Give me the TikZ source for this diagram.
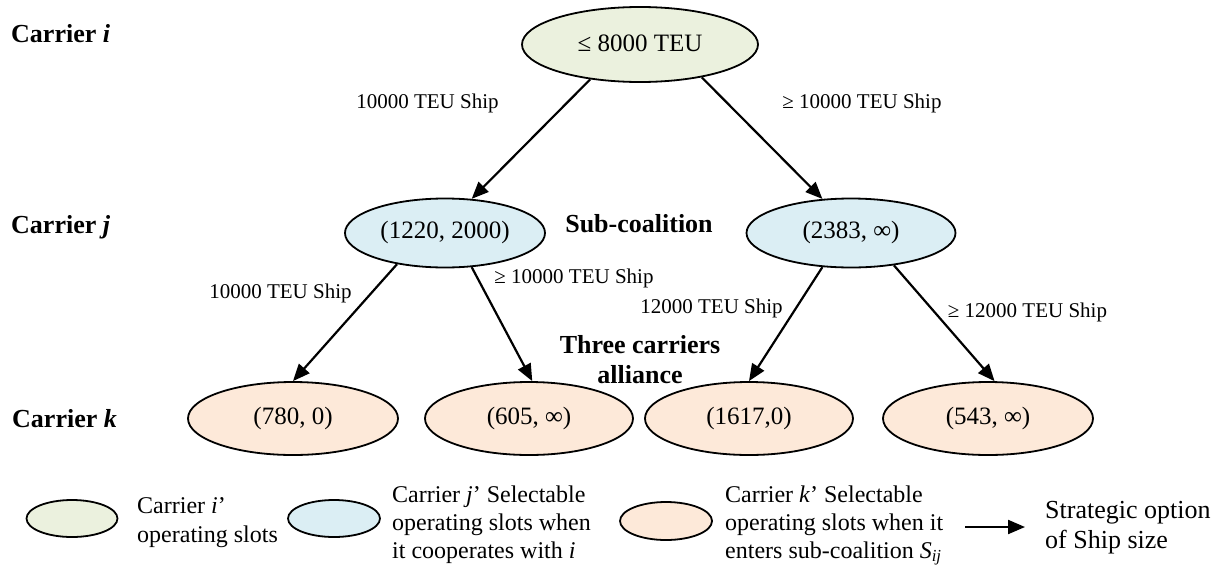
\documentclass[tikz,border=0pt]{standalone}
\usepackage{fontspec}
\setmainfont{Liberation Serif}
\usetikzlibrary{shapes.geometric,arrows.meta}
\definecolor{slotgreen}{HTML}{EBF1DE}
\definecolor{slotblue}{HTML}{DBEEF4}
\definecolor{slotpeach}{HTML}{FDE9D9}
\begin{document}
\begin{tikzpicture}[x=1pt,y=-1pt,
  oval/.style={ellipse,draw=black,line width=1.8pt,inner sep=0pt,
    font=\fontsize{25}{30}\selectfont},
  greenoval/.style={oval,fill=slotgreen},
  blueoval/.style={oval,fill=slotblue,minimum height=69pt},
  peachoval/.style={oval,fill=slotpeach,minimum height=73pt},
  keyoval/.style={ellipse,draw=black,line width=1.8pt,inner sep=0pt,
    minimum width=91pt,minimum height=37pt},
  rowlabel/.style={anchor=base west,inner sep=0pt,font=\fontsize{26}{30}\selectfont\bfseries},
  boldnote/.style={anchor=base,inner sep=0pt,font=\fontsize{26}{30}\selectfont\bfseries},
  choice/.style={anchor=base,inner sep=0pt,font=\fontsize{21}{25}\selectfont},
  keytext/.style={anchor=base west,inner sep=0pt,font=\fontsize{24}{28}\selectfont},
  keybig/.style={anchor=base west,inner sep=0pt,font=\fontsize{26}{30}\selectfont},
  option/.style={-{Triangle[length=17pt,width=14pt]},line width=2.2pt}]
\useasboundingbox (0,0) rectangle (1223,565);

% row labels
\node[rowlabel] (ri) at (11,42)  {Carrier \textit{i}};
\node[rowlabel] (rj) at (11,233) {Carrier \textit{j}};
\node[rowlabel] (rk) at (12,427) {Carrier \textit{k}};

% decision tree
\node[greenoval,minimum width=236pt,minimum height=75pt] (top) at (640,44.5)
  {\raisebox{3pt}{≤ 8000 TEU}};
\node[blueoval,minimum width=200pt] (j1) at (445,233) {\raisebox{6pt}{(1220, 2000)}};
\node[blueoval,minimum width=209pt] (j2) at (851,233) {\raisebox{6pt}{(2383, ∞)}};
\node[peachoval,minimum width=210pt] (k1) at (293,418.5) {\raisebox{4pt}{(780, 0)}};
\node[peachoval,minimum width=208pt] (k2) at (529,418.5) {\raisebox{4pt}{(605, ∞)}};
\node[peachoval,minimum width=208pt] (k3) at (749,418.5) {\raisebox{4pt}{(1617,0)}};
\node[peachoval,minimum width=210pt] (k4) at (988,418.5) {\raisebox{4pt}{(543, ∞)}};

\node[boldnote] (sub) at (639,232) {Sub-coalition};
\node[boldnote] (three) at (640,353) {Three carriers};
\node[boldnote] (alli) at (640,383) {alliance};

% ship size options
\draw[option] (top.215) -- (j1.52);
\draw[option] (top.332) -- (j2.130);
\draw[option] (j1.213) -- (k1.90);
\draw[option] (j1.308) -- (k2.85);
\draw[option] (j2.230) -- (k3.90);
\draw[option] (j2.323) -- (k4.80);

\node[choice] (c1) at (427.5,108) {10000 TEU Ship};
\node[choice] (c2) at (862,108) {≥ 10000 TEU Ship};
\node[choice] (c3) at (280.5,298) {10000 TEU Ship};
\node[choice] (c4) at (574,283) {≥ 10000 TEU Ship};
\node[choice] (c5) at (711.5,313) {12000 TEU Ship};
\node[choice] (c6) at (1027.5,317) {≥ 12000 TEU Ship};

% legend
\node[keyoval,fill=slotgreen] (kg) at (72,518.5) {};
\node[keytext] (kg1) at (137,513) {Carrier \textit{i}’};
\node[keytext] (kg2) at (137,542) {operating slots};

\node[keyoval,fill=slotblue,minimum width=92pt] (kb) at (334,518.5) {};
\node[keytext] (kb1) at (392,502) {Carrier \textit{j}’ Selectable};
\node[keytext] (kb2) at (392,530) {operating slots when};
\node[keytext] (kb3) at (392,558) {it cooperates with \textit{i}};

\node[keyoval,fill=slotpeach,minimum width=92pt,minimum height=38pt] (kp) at (666,521) {};
\node[keytext] (kp1) at (725,502) {Carrier \textit{k}’ Selectable};
\node[keytext] (kp2) at (725,530) {operating slots when it};
\node[keytext] (kp3) at (725,558) {enters sub-coalition \textit{S}\textsubscript{\textit{ij}}};

\coordinate (ka) at (965,527);
\coordinate (kz) at (1025,527);
\draw[option] (ka) -- (kz);
\node[keybig] (ks1) at (1045,518) {Strategic option};
\node[keybig] (ks2) at (1045,548) {of Ship size};
\end{tikzpicture}
\end{document}
